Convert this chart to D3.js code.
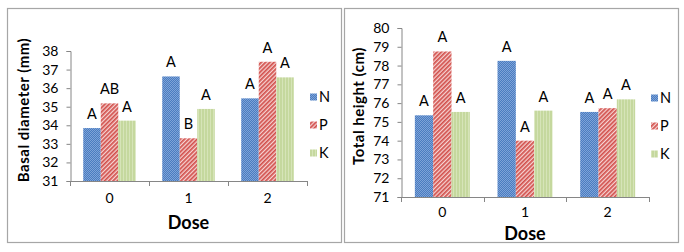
<!DOCTYPE html>
<html>
<head>
<meta charset="utf-8">
<script src="https://cdn.jsdelivr.net/npm/d3@7"></script>
<style>
  html, body { margin: 0; padding: 0; background: #fff; }
  svg { display: block; }
  text { font-family: Lato, "Open Sans", "Liberation Sans", sans-serif; fill: #000; }
</style>
</head>
<body>
<svg id="chart" width="684" height="252"></svg>
<script>
// ---- Data ----
const doses = ["0", "1", "2"];
const seriesNames = ["N", "P", "K"];

// Basal diameter (mm)
const diamN = [33.85, 36.63, 35.45];
const diamP = [35.18, 33.30, 37.42];
const diamK = [34.25, 34.88, 36.58];
const diamLetters = [["A", "AB", "A"], ["A", "B", "A"], ["A", "A", "A"]]; // per dose: N,P,K
const diamTicks = [31, 32, 33, 34, 35, 36, 37, 38];

// Total height (cm)
const heightN = [75.35, 78.25, 75.53];
const heightP = [78.75, 74.00, 75.73];
const heightK = [75.53, 75.60, 76.20];
const heightLetters = [["A", "A", "A"], ["A", "A", "A"], ["A", "A", "A"]];
const heightTicks = [71, 72, 73, 74, 75, 76, 77, 78, 79, 80];

const svg = d3.select("#chart");
const defs = svg.append("defs");

// Patterns
const pN = defs.append("pattern").attr("id", "patN").attr("patternUnits", "userSpaceOnUse")
  .attr("width", 2).attr("height", 2);
pN.append("rect").attr("width", 2).attr("height", 2).attr("fill", "#4a7cc0");
pN.append("rect").attr("width", 1).attr("height", 1).attr("fill", "#7ea3d8");
pN.append("rect").attr("x", 1).attr("y", 1).attr("width", 1).attr("height", 1).attr("fill", "#7ea3d8");

const pP = defs.append("pattern").attr("id", "patP").attr("patternUnits", "userSpaceOnUse")
  .attr("width", 3).attr("height", 3).attr("patternTransform", "rotate(45)");
pP.append("rect").attr("width", 3).attr("height", 3).attr("fill", "#f6d4d3");
pP.append("rect").attr("width", 1.7).attr("height", 3).attr("fill", "#d2504c");

const pK = defs.append("pattern").attr("id", "patK").attr("patternUnits", "userSpaceOnUse")
  .attr("width", 3).attr("height", 3);
pK.append("rect").attr("width", 3).attr("height", 3).attr("fill", "#c5d89e");
pK.append("rect").attr("width", 1).attr("height", 3).attr("fill", "#d6e4b8");

const fills = { N: "url(#patN)", P: "url(#patP)", K: "url(#patK)" };

function drawPanel(cfg) {
  const g = svg.append("g");
  // panel border
  g.append("rect").attr("x", cfg.box[0] + 0.5).attr("y", cfg.box[1] + 0.5)
    .attr("width", cfg.box[2]).attr("height", cfg.box[3])
    .attr("fill", "#fff").attr("stroke", "#a6a6a6").attr("stroke-width", 1.2);

  const x = d3.scaleBand().domain(doses).range([cfg.x0, cfg.x1])
    .paddingInner(0.335).paddingOuter(0.1675);
  const xs = d3.scaleBand().domain(seriesNames).range([0, x.bandwidth()]);
  const y = d3.scaleLinear().domain(cfg.domain).range([cfg.yBottom, cfg.yTop]);

  const series = { N: cfg.N, P: cfg.P, K: cfg.K };

  doses.forEach((d, i) => {
    seriesNames.forEach((s, j) => {
      const v = series[s][i];
      const bx = x(d) + xs(s);
      g.append("rect")
        .attr("x", bx).attr("y", y(v))
        .attr("width", xs.bandwidth()).attr("height", y(cfg.domain[0]) - y(v))
        .attr("fill", fills[s]);
      g.append("text")
        .attr("x", bx + xs.bandwidth() / 2).attr("y", y(v) - 9)
        .attr("text-anchor", "middle").attr("font-size", 14.5)
        .text(cfg.letters[i][j]);
    });
  });

  // y axis
  const yAxis = d3.axisLeft(y).tickValues(cfg.ticks).tickSize(4).tickPadding(8)
    .tickFormat(d3.format("d"));
  const ya = g.append("g").attr("transform", `translate(${cfg.x0 + 0.5},0)`).call(yAxis);
  ya.select(".domain").attr("stroke", "#868686");
  ya.selectAll(".tick line").attr("stroke", "#868686");
  ya.selectAll(".tick text").attr("font-size", 14).attr("fill", "#000")
    .style("font-family", "Lato, 'Open Sans', sans-serif");

  // x axis line with between-category ticks
  const xAxis = d3.axisBottom(x).tickSize(0).tickPadding(cfg.xPad);
  const xa = g.append("g").attr("transform", `translate(0,${cfg.yBottom + 0.5})`).call(xAxis);
  xa.select(".domain").remove();
  xa.selectAll(".tick text").attr("font-size", 14).attr("fill", "#000")
    .style("font-family", "Lato, 'Open Sans', sans-serif");
  g.append("line").attr("x1", cfg.x0).attr("x2", cfg.x1 + 0.5)
    .attr("y1", cfg.yBottom + 0.5).attr("y2", cfg.yBottom + 0.5).attr("stroke", "#868686");
  const step = x.step();
  for (let k = 0; k <= doses.length; k++) {
    const tx = Math.round(cfg.x0 + k * step) + 0.5;
    g.append("line").attr("x1", tx).attr("x2", tx)
      .attr("y1", cfg.yBottom).attr("y2", cfg.yBottom + 5).attr("stroke", "#868686");
  }

  // axis titles
  g.append("text").attr("x", (cfg.x0 + cfg.x1) / 2).attr("y", cfg.doseY)
    .attr("text-anchor", "middle").attr("font-size", 18).attr("font-weight", "bold")
    .text("Dose");
  g.append("text")
    .attr("transform", `translate(${cfg.titleX},${cfg.titleY}) rotate(-90)`)
    .attr("text-anchor", "middle").attr("font-size", 15).attr("font-weight", "bold")
    .attr("letter-spacing", 0.5)
    .text(cfg.title);

  // legend
  seriesNames.forEach((s, j) => {
    const ly = cfg.legY + j * 28;
    g.append("rect").attr("x", cfg.legX).attr("y", ly - 3.5).attr("width", 7).attr("height", 7)
      .attr("fill", fills[s]);
    g.append("text").attr("x", cfg.legX + 9).attr("y", ly + 5).attr("font-size", 14.5).text(s);
  });
}

drawPanel({
  box: [7, 8, 334, 234],
  x0: 70, x1: 307, yTop: 51, yBottom: 181,
  domain: [31, 38], ticks: diamTicks,
  N: diamN, P: diamP, K: diamK, letters: diamLetters,
  title: "Basal diameter (mm)", titleX: 28.5, titleY: 110,
  doseY: 229, xPad: 12, legX: 310, legY: 97
});

drawPanel({
  box: [344, 8, 334, 234],
  x0: 401, x1: 649, yTop: 28, yBottom: 197,
  domain: [71, 80], ticks: heightTicks,
  N: heightN, P: heightP, K: heightK, letters: heightLetters,
  title: "Total height (cm)", titleX: 363.5, titleY: 106,
  doseY: 240, xPad: 10, legX: 651, legY: 98
});
</script>
</body>
</html>
